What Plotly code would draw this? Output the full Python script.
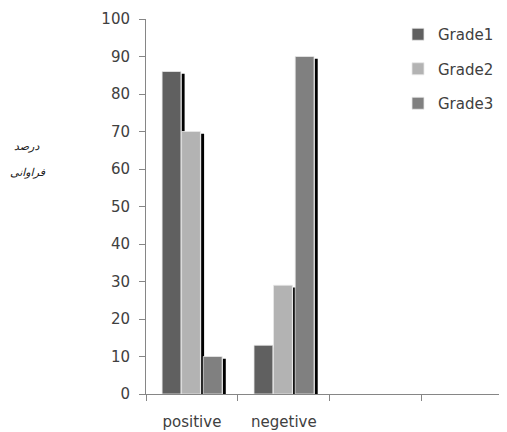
import plotly.graph_objects as go

categories = ["positive", "negetive", " ", "  "]
grade1 = [86, 13, None, None]
grade2 = [70, 29, None, None]
grade3 = [10, 90, None, None]
series_names = ["Grade1", "Grade2", "Grade3"]
y_ticks = [0, 10, 20, 30, 40, 50, 60, 70, 80, 90, 100]
axis_title_lines = ["درصد", "فراوانی"]

colors = ["#606060", "#b3b3b3", "#808080"]
offsets = [-0.325, -0.113, 0.123]
bar_w = 0.205

# page has an 8px body margin; figure sized to fill the rest of the window
OFF = 8
W, H = 507 - OFF, 432 - OFF
# plot area in window pixels: left 146, right 507, top 19, bottom 394
ML, MR, MT, MB = 146 - OFF, 0, 19 - OFF, 432 - 394
PW, PH = W - ML - MR, H - MT - MB


def px_x(x):
    return (x - OFF - ML) / PW


def px_y(y):
    return (H - MB - (y - OFF)) / PH


fig = go.Figure()
series = [grade1, grade2, grade3]

# shadows first (behind bars)
for vals, off in zip(series, offsets):
    fig.add_trace(go.Bar(
        x=categories, y=[v - 0.6 if v is not None else None for v in vals],
        offset=off + bar_w + 0.008, width=0.032,
        marker=dict(color="#000000", line=dict(width=0)),
        showlegend=False, hoverinfo="skip"))

for name, vals, col, off in zip(series_names, series, colors, offsets):
    fig.add_trace(go.Bar(
        x=categories, y=vals, name=name, offset=off, width=bar_w,
        marker=dict(color=col, line=dict(color="#e8e8e8", width=0.8)),
        legendgroup=name))

fig.update_layout(
    width=W, height=H,
    barmode="overlay",
    plot_bgcolor="white", paper_bgcolor="white",
    margin=dict(l=ML, r=MR, t=MT, b=MB, autoexpand=False),
    font=dict(family="DejaVu Sans", color="#404040", size=13),
    legend=dict(x=px_x(398), xanchor="left", y=px_y(18), yanchor="top",
                font=dict(size=15, color="#404040"),
                tracegroupgap=12, bgcolor="rgba(0,0,0,0)",
                itemwidth=30),
    xaxis=dict(type="category", categoryorder="array", categoryarray=categories,
               range=[-0.5, 3.427], tickson="boundaries", ticks="outside",
               ticklen=6, tickcolor="#868686", showline=True,
               linecolor="#868686", linewidth=1, showgrid=False,
               tickfont=dict(size=15, color="#404040"),
               ticklabelstandoff=14, automargin=False),
    yaxis=dict(range=[0, 100], tickvals=y_ticks, ticks="outside", ticklen=6,
               tickcolor="#868686", showline=True, linecolor="#868686",
               linewidth=1, showgrid=False, zeroline=False,
               tickfont=dict(size=15, color="#404040"), ticklabelstandoff=6,
               automargin=False),
    annotations=[
        dict(text="<i>" + axis_title_lines[0] + "</i>", x=px_x(26), y=px_y(146),
             xref="paper", yref="paper", showarrow=False,
             xanchor="center", yanchor="middle",
             font=dict(size=11, color="#202020", family="DejaVu Sans")),
        dict(text="<i>" + axis_title_lines[1] + "</i>", x=px_x(28), y=px_y(173),
             xref="paper", yref="paper", showarrow=False,
             xanchor="center", yanchor="middle",
             font=dict(size=11, color="#202020", family="DejaVu Sans")),
    ],
)

fig.write_html("out.html")
